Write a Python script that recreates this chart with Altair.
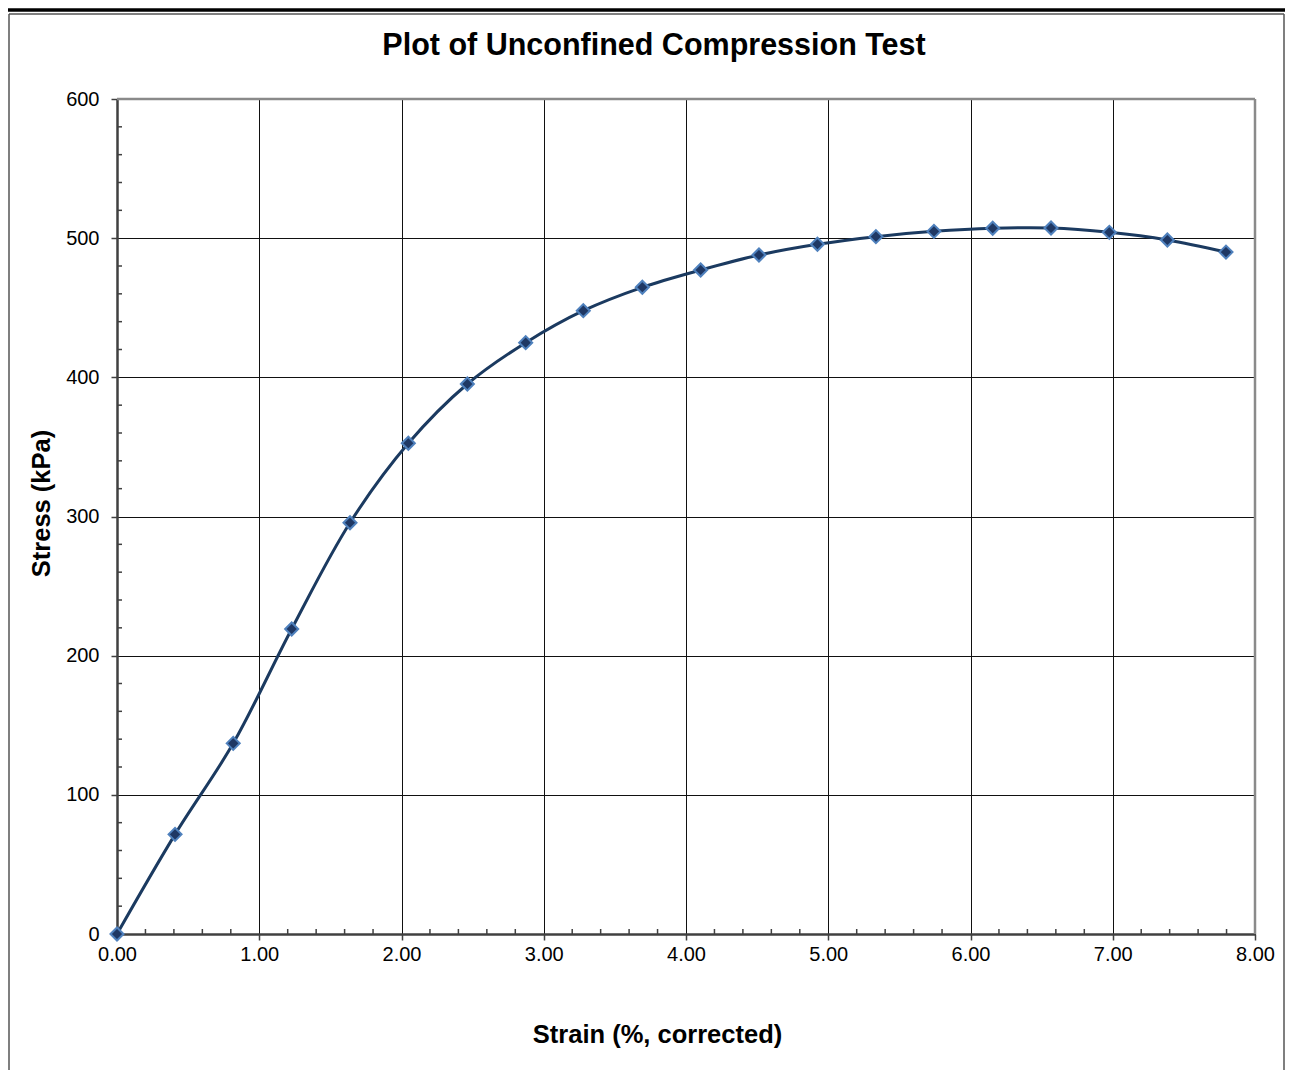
import altair as alt
import pandas as pd

# ---- data ----
strain = [0.00, 0.408, 0.817, 1.228, 1.638, 2.048, 2.463, 2.873, 3.278, 3.693,
          4.103, 4.513, 4.924, 5.335, 5.743, 6.156, 6.566, 6.976, 7.384, 7.796]
stress = [0.0, 71.6, 137.0, 219.2, 295.5, 352.6, 395.2, 424.9, 447.9, 464.7,
          477.1, 487.9, 495.6, 501.1, 504.9, 507.1, 507.3, 504.2, 498.7, 490.0]

x_ticks = [0, 1, 2, 3, 4, 5, 6, 7, 8]
y_ticks = [0, 100, 200, 300, 400, 500, 600]
x_minor = [0.2, 0.4, 0.6, 0.8, 1.2, 1.4, 1.6, 1.8, 2.2, 2.4, 2.6, 2.8,
           3.2, 3.4, 3.6, 3.8, 4.2, 4.4, 4.6, 4.8, 5.2, 5.4, 5.6, 5.8,
           6.2, 6.4, 6.6, 6.8, 7.2, 7.4, 7.6, 7.8]
y_minor = [20, 40, 60, 80, 120, 140, 160, 180, 220, 240, 260, 280,
           320, 340, 360, 380, 420, 440, 460, 480, 520, 540, 560, 580]

chart_title = "Plot of Unconfined Compression Test"
x_title = "Strain (%, corrected)"
y_title = "Stress (kPa)"

W, H = 1138, 835
FONT = "Liberation Sans"

df = pd.DataFrame({"strain": strain, "stress": stress})
xs = alt.Scale(domain=[0, 8], nice=False, zero=False)
ys = alt.Scale(domain=[0, 600], nice=False)

x_axis = alt.Axis(values=x_ticks, format=".2f", title=x_title, grid=True,
                  gridColor="#111111", gridWidth=1, tickSize=6, tickColor="#404040",
                  tickWidth=1.5, domainColor="#404040", domainWidth=2.5,
                  labelFont=FONT, labelFontSize=20, labelColor="#000000", labelPadding=4,
                  labelFlush=False, titleFont=FONT, titleFontSize=25.5, titleFontWeight="bold",
                  titleColor="#000000", titleX=540, titleY=100, titleAlign="center",
                  titleBaseline="middle")
y_axis = alt.Axis(values=y_ticks, format="d", title=y_title, grid=True,
                  gridColor="#111111", gridWidth=1, tickSize=6, tickColor="#404040",
                  tickWidth=1.5, domainColor="#404040", domainWidth=2.5,
                  labelFont=FONT, labelFontSize=20, labelColor="#000000", labelPadding=12,
                  labelFlush=False, titleFont=FONT, titleFontSize=25.5, titleFontWeight="bold",
                  titleColor="#000000", titleX=-76, titleY=404, titleAlign="center",
                  titleBaseline="middle", titleAngle=270)

base_axes = alt.Chart(df).mark_point(opacity=0).encode(
    x=alt.X("strain:Q", scale=xs, axis=x_axis),
    y=alt.Y("stress:Q", scale=ys, axis=y_axis),
)

xminor = alt.Chart(pd.DataFrame({"strain": x_minor})).mark_rule(color="#404040", strokeWidth=1.5).encode(
    x=alt.X("strain:Q", scale=xs), y=alt.value(H), y2=alt.value(H - 5))
yminor = alt.Chart(pd.DataFrame({"stress": y_minor})).mark_rule(color="#404040", strokeWidth=1.5).encode(
    y=alt.Y("stress:Q", scale=ys), x=alt.value(0), x2=alt.value(5))

border_df = pd.DataFrame({"k": [0]})
top_border = alt.Chart(border_df).mark_rule(color="#8a8a8a", strokeWidth=2.5).encode(
    x=alt.value(0), x2=alt.value(W), y=alt.value(0))
right_border = alt.Chart(border_df).mark_rule(color="#8a8a8a", strokeWidth=2.5).encode(
    x=alt.value(W), y=alt.value(0), y2=alt.value(H))

line = alt.Chart(df).mark_line(color="#1b3a60", strokeWidth=3, interpolate="catmull-rom").encode(
    x=alt.X("strain:Q", scale=xs), y=alt.Y("stress:Q", scale=ys))
pts = alt.Chart(df).mark_point(shape="diamond", filled=True, size=170, fill="#1f3864",
                               stroke="#4f81bd", strokeWidth=2, opacity=1).encode(
    x=alt.X("strain:Q", scale=xs), y=alt.Y("stress:Q", scale=ys))

# outer frame (page decoration)
frame_left = alt.Chart(border_df).mark_rule(color="#555555", strokeWidth=1.5).encode(
    x=alt.value(-108), y=alt.value(-85), y2=alt.value(H + 140))
frame_top = alt.Chart(border_df).mark_rule(color="#555555", strokeWidth=1.5).encode(
    x=alt.value(-108), x2=alt.value(1167), y=alt.value(-85))
frame_right = alt.Chart(border_df).mark_rule(color="#555555", strokeWidth=1.5).encode(
    x=alt.value(1167), y=alt.value(-85), y2=alt.value(H + 140))
top_bar = alt.Chart(border_df).mark_rule(color="#000000", strokeWidth=3.5).encode(
    x=alt.value(-110), x2=alt.value(1180), y=alt.value(-89))

title = alt.Chart(pd.DataFrame({"t": [chart_title]})).mark_text(
    font=FONT, fontSize=30.5, fontWeight="bold", color="#000000",
    align="center", baseline="middle").encode(
    text="t:N", x=alt.value(537), y=alt.value(-53))

chart = alt.layer(
    base_axes, xminor, yminor, top_border, right_border, line, pts,
    frame_left, frame_top, frame_right, top_bar, title
).properties(
    width=W, height=H,
    autosize=alt.AutoSizeParams(type="none"),
    padding={"left": 109, "top": 91, "right": 30, "bottom": 136},
).configure_view(stroke=None).configure(background="#ffffff")

chart.save("out.html", embed_options={"renderer": "svg", "actions": False})
